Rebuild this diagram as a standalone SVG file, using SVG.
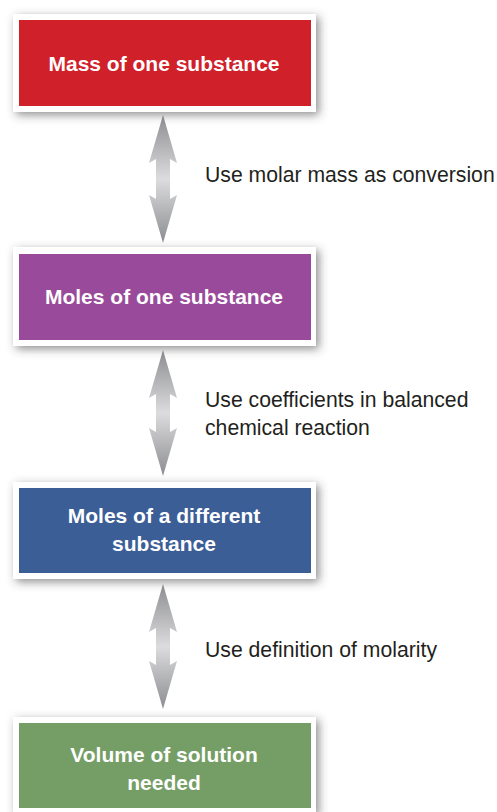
<svg xmlns="http://www.w3.org/2000/svg" width="497" height="812" viewBox="0 0 497 812">
  <defs>
    <filter id="shadow" x="-10%" y="-20%" width="125%" height="150%">
      <feDropShadow dx="3" dy="3" stdDeviation="5" flood-color="#444" flood-opacity="0.6"/>
    </filter>
    <linearGradient id="arrowGrad" x1="0" y1="0" x2="0" y2="1">
      <stop offset="0" stop-color="#8c8d90"/>
      <stop offset="0.5" stop-color="#dcdcde"/>
      <stop offset="1" stop-color="#8c8d90"/>
    </linearGradient>
  </defs>
  <style>
    .frame { fill: #ffffff; filter: url(#shadow); }
    .nodetext { font-family: "Liberation Sans", Arial, sans-serif; font-weight: bold; font-size: 21px; fill: #ffffff; text-anchor: middle; }
    .label { font-family: "Liberation Sans", Arial, sans-serif; font-size: 21.2px; fill: #231f20; }
  </style>
  <rect width="497" height="812" fill="#ffffff"/>

  <g id="connectors">
    <path id="arrow1" fill="url(#arrowGrad)" d="M163,115 L177,163 L170,159 L170,199 L177,195 L163,243 L149,195 L156,199 L156,159 L149,163 Z"/>
    <path id="arrow2" fill="url(#arrowGrad)" d="M163,350 L177,398 L170,394 L170,432 L177,428 L163,476 L149,428 L156,432 L156,394 L149,398 Z"/>
    <path id="arrow3" fill="url(#arrowGrad)" d="M163,584 L177,632 L170,628 L170,665 L177,661 L163,709 L149,661 L156,665 L156,628 L149,632 Z"/>
    <text class="label" x="205" y="182">Use molar mass as conversion</text>
    <text class="label" x="205" y="407">Use coefficients in balanced</text>
    <text class="label" x="205" y="435">chemical reaction</text>
    <text class="label" x="205" y="657">Use definition of molarity</text>
  </g>

  <g id="node-mass">
    <rect class="frame" x="13" y="14" width="303" height="98"/>
    <rect x="19" y="20" width="292" height="86" fill="#d0202a"/>
    <text class="nodetext" x="164" y="71">Mass of one substance</text>
  </g>

  <g id="node-moles-one">
    <rect class="frame" x="13" y="247" width="303" height="99"/>
    <rect x="19" y="254" width="292" height="86" fill="#9a4a9b"/>
    <text class="nodetext" x="164" y="304">Moles of one substance</text>
  </g>

  <g id="node-moles-different">
    <rect class="frame" x="13" y="482" width="303" height="97"/>
    <rect x="19" y="488" width="292" height="85" fill="#3b5e97"/>
    <text class="nodetext" x="164" y="523">Moles of a different</text>
    <text class="nodetext" x="164" y="551">substance</text>
  </g>

  <g id="node-volume">
    <rect class="frame" x="13" y="717" width="303" height="96"/>
    <rect x="19" y="723" width="292" height="85" fill="#759e66"/>
    <text class="nodetext" x="164" y="762">Volume of solution</text>
    <text class="nodetext" x="164" y="790">needed</text>
  </g>
</svg>
